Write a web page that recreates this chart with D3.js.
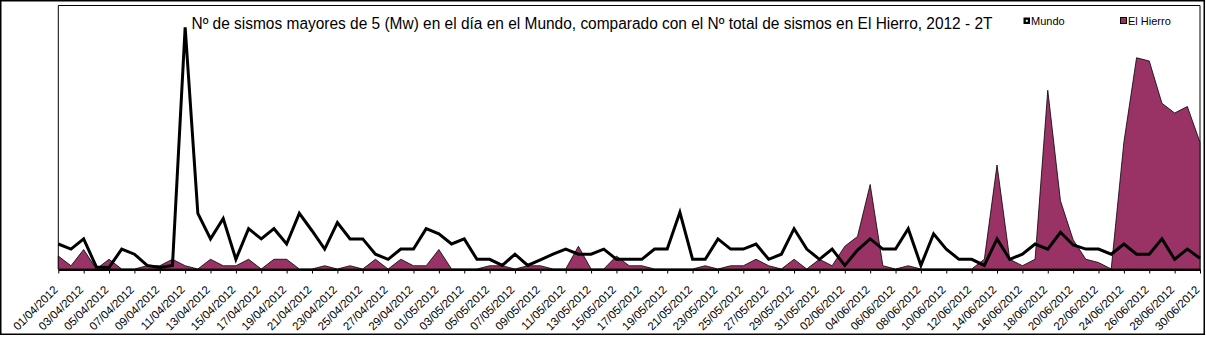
<!DOCTYPE html>
<html>
<head>
<meta charset="utf-8">
<script src="https://cdn.jsdelivr.net/npm/d3@7/dist/d3.min.js"></script>
<style>
  html, body { margin: 0; padding: 0; background: #fff; }
  svg { display: block; }
  text { font-family: "Liberation Sans", Arial, sans-serif; fill: #000; }
</style>
</head>
<body>
<svg id="chart" width="1206" height="337"></svg>
<script>
// ---- Data ----
const categories = [
  "01/04/2012","02/04/2012","03/04/2012","04/04/2012","05/04/2012","06/04/2012","07/04/2012","08/04/2012","09/04/2012","10/04/2012",
  "11/04/2012","12/04/2012","13/04/2012","14/04/2012","15/04/2012","16/04/2012","17/04/2012","18/04/2012","19/04/2012","20/04/2012",
  "21/04/2012","22/04/2012","23/04/2012","24/04/2012","25/04/2012","26/04/2012","27/04/2012","28/04/2012","29/04/2012","30/04/2012",
  "01/05/2012","02/05/2012","03/05/2012","04/05/2012","05/05/2012","06/05/2012","07/05/2012","08/05/2012","09/05/2012","10/05/2012",
  "11/05/2012","12/05/2012","13/05/2012","14/05/2012","15/05/2012","16/05/2012","17/05/2012","18/05/2012","19/05/2012","20/05/2012",
  "21/05/2012","22/05/2012","23/05/2012","24/05/2012","25/05/2012","26/05/2012","27/05/2012","28/05/2012","29/05/2012","30/05/2012",
  "31/05/2012","01/06/2012","02/06/2012","03/06/2012","04/06/2012","05/06/2012","06/06/2012","07/06/2012","08/06/2012","09/06/2012",
  "10/06/2012","11/06/2012","12/06/2012","13/06/2012","14/06/2012","15/06/2012","16/06/2012","17/06/2012","18/06/2012","19/06/2012",
  "20/06/2012","21/06/2012","22/06/2012","23/06/2012","24/06/2012","25/06/2012","26/06/2012","27/06/2012","28/06/2012","29/06/2012",
  "30/06/2012"
];

// Nº de sismos mayores de 5 (Mw) en el Mundo
const mundo = [
  5, 4, 6, 0.5, 0.4, 4, 3, 0.8, 0.4, 0.8,
  47.5, 11, 6, 10, 2, 8, 6, 8, 5, 11,
  7.6, 4, 9.2, 6, 6, 3, 2, 4, 4, 8,
  7, 5, 6, 2, 2, 0.8, 3, 0.8, 1.9, 3,
  4, 3, 3, 4, 2, 2, 2, 4, 4, 11.2,
  2, 2, 6, 4, 4, 5, 2, 3, 8, 4,
  2, 4, 0.8, 3.8, 6, 4, 4, 8, 0.8, 7,
  4, 2, 2, 0.8, 6, 2, 3, 5, 4, 7.3,
  4.8, 4, 4, 3, 5, 3, 3, 6, 2, 4,
  2.2
];

// Nº total de sismos en El Hierro
const hierro = [
  4, 1, 6, 0, 3, 0, 0, 1, 1, 3,
  1, 0, 3, 1, 1, 3, 0, 3, 3, 0,
  0, 1, 0, 1, 0, 3, 0, 3, 1, 1,
  6, 0, 0, 0, 1, 1, 0, 1, 1, 0,
  0, 7, 0, 0, 4, 1, 1, 0, 0, 0,
  0, 1, 0, 1, 1, 3, 1, 0, 3, 0,
  3, 1, 7, 10, 26, 1, 0, 1, 0, 0,
  0, 0, 0, 3, 32, 3, 1, 3, 55, 21,
  9, 3, 2, 0, 39, 65, 64, 51, 48, 50,
  39
];

const tickLabels = categories.filter((d, i) => i % 2 === 0);
const seriesNames = ["Mundo", "El Hierro"];
const titleText = "Nº de sismos mayores de 5 (Mw) en el día en el Mundo, comparado con el Nº total de sismos en El Hierro, 2012 - 2T";

// ---- Layout ----
const W = 1206, H = 337;
const plot = { left: 58.3, right: 1200, top: 5, bottom: 269.5 };

const svg = d3.select("#chart");

// outer border
svg.append("rect")
  .attr("x", 0.75).attr("y", 0.75)
  .attr("width", 1203.5).attr("height", 333.5)
  .attr("fill", "#fff").attr("stroke", "#000").attr("stroke-width", 1.5);

const x = d3.scalePoint().domain(categories).range([plot.left, plot.right]).padding(0);
const yMundo = d3.scaleLinear().domain([0, 52]).range([plot.bottom, plot.bottom - 52 * 5.1]);
const yHierro = d3.scaleLinear().domain([0, 80]).range([plot.bottom - 0.5, plot.bottom - 0.5 - 80 * 3.25]);

// plot frame (left, top, right)
svg.append("path")
  .attr("d", `M${plot.left},${plot.bottom} V${plot.top + 0.5} H${plot.right} V${plot.bottom}`)
  .attr("fill", "none").attr("stroke", "#000").attr("stroke-width", 1);

// El Hierro area
const area = d3.area()
  .x((d, i) => x(categories[i]))
  .y0(yHierro(0))
  .y1(d => yHierro(d));
svg.append("path")
  .datum(hierro)
  .attr("d", area)
  .attr("fill", "#993366")
  .attr("stroke", "#000")
  .attr("stroke-width", 0.8);

// Mundo line
const line = d3.line()
  .x((d, i) => x(categories[i]))
  .y(d => yMundo(d));
svg.append("path")
  .datum(mundo)
  .attr("d", line)
  .attr("fill", "none")
  .attr("stroke", "#000")
  .attr("stroke-width", 3);

// x axis
const axis = d3.axisBottom(x)
  .tickValues(tickLabels)
  .tickSize(4)
  .tickSizeOuter(0);
const gx = svg.append("g")
  .attr("transform", `translate(0,${plot.bottom})`)
  .call(axis);
gx.select(".domain").attr("stroke", "#000").attr("stroke-width", 2);
gx.selectAll(".tick line").attr("stroke", "#000").attr("stroke-width", 1);
gx.selectAll(".tick text")
  .attr("x", 0).attr("y", 0).attr("dy", "0.35em")
  .attr("text-anchor", "end")
  .attr("transform", "translate(-3,18) rotate(-45)")
  .style("font-size", "11.5px")
  .style("font-family", "'Liberation Sans', Arial, sans-serif");

// title
svg.append("text")
  .attr("x", 191.5).attr("y", 29)
  .attr("textLength", 801)
  .attr("lengthAdjust", "spacingAndGlyphs")
  .style("font-size", "16px")
  .text(titleText);

// legend
const lg = svg.append("g");
lg.append("rect").attr("x", 1023.5).attr("y", 17.5).attr("width", 6.5).attr("height", 6.5).attr("fill", "#000");
lg.append("rect").attr("x", 1025.8).attr("y", 19.8).attr("width", 2).attr("height", 2).attr("fill", "#fff");
lg.append("text").attr("x", 1031).attr("y", 24.5).style("font-size", "11px").text(seriesNames[0]);
lg.append("rect").attr("x", 1120.5).attr("y", 17.5).attr("width", 6).attr("height", 6)
  .attr("fill", "#993366").attr("stroke", "#000").attr("stroke-width", 1);
lg.append("text").attr("x", 1128).attr("y", 24.5).style("font-size", "11px").text(seriesNames[1]);
</script>
</body>
</html>
